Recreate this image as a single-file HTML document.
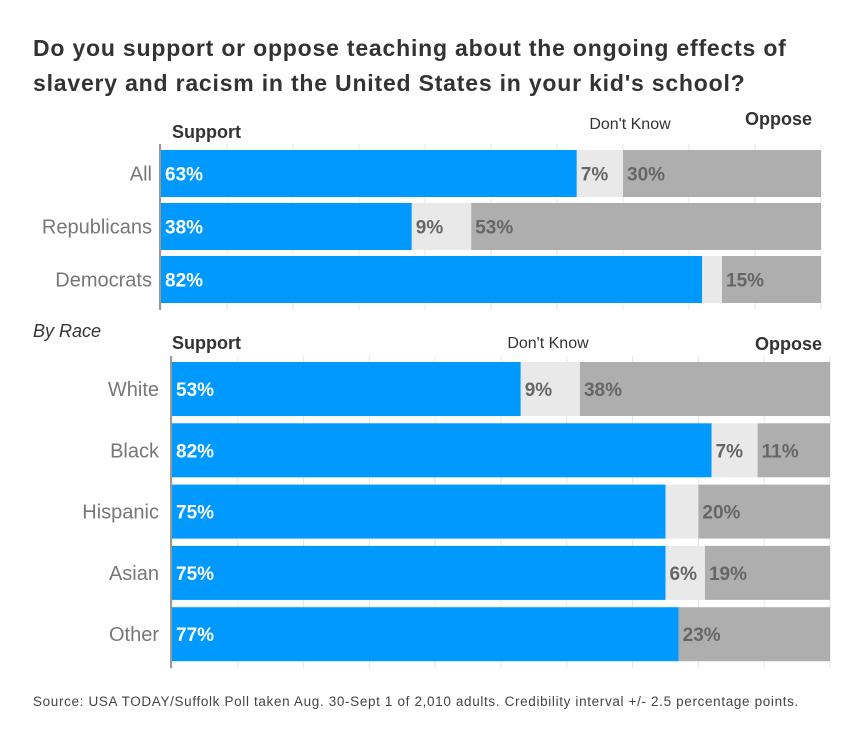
<!DOCTYPE html>
<html><head><meta charset="utf-8">
<style>
body{margin:0;background:#fff;width:860px;height:734px;overflow:hidden;font-family:"Liberation Sans",sans-serif;}
#title{position:absolute;left:33px;top:31px;font-size:23px;font-weight:bold;color:#333;line-height:35px;width:800px;letter-spacing:0.8px;}
#src{position:absolute;left:33px;top:694px;font-size:13.5px;color:#444;letter-spacing:0.65px;}
svg{position:absolute;left:0;top:0;}
</style></head><body>
<div id="title">Do you support or oppose teaching about the ongoing effects of<br>slavery and racism in the United States in your kid's school?</div>
<div id="src">Source: USA TODAY/Suffolk Poll taken Aug. 30-Sept 1 of 2,010 adults. Credibility interval +/- 2.5 percentage points.</div>
<svg id="chart" width="860" height="734"></svg>
<script>
const partyCats=["All","Republicans","Democrats"];
const partySupport=[63,38,82];
const partyDK=[7,9,3];
const partyOppose=[30,53,15];
const raceCats=["White","Black","Hispanic","Asian","Other"];
const raceSupport=[53,82,75,75,77];
const raceDK=[9,7,5,6,0];
const raceOppose=[38,11,20,19,23];
const NS="http://www.w3.org/2000/svg";
const svg=document.getElementById('chart');
function mk(tag,attrs,txt){const e=document.createElementNS(NS,tag);for(const k in attrs)e.setAttribute(k,attrs[k]);if(txt!=null)e.textContent=txt;svg.appendChild(e);return e;}
function panel(cats,sup,dk,opp,x0,x1,y0,rowH,barH,labelX,prefix){
  const sx=v=>x0+(x1-x0)*v/100;
  const yEnd=y0+rowH*cats.length-(rowH-barH);
  for(let t=0;t<=10;t++){
    const l=mk('line',{x1:sx(t*10),x2:sx(t*10),y1:y0-6,y2:yEnd+7,stroke:'#e6e6e6','stroke-width':1});
    
  }
  cats.forEach((c,i)=>{
    const y=y0+i*rowH;
    const segs=[[sup[i],'#0099ff','#fff','support'],[dk[i],'#e9e9e9','#666','dont-know'],[opp[i],'#aeaeae','#666','oppose']];
    let acc=0;
    segs.forEach(s=>{
      const r=mk('rect',{x:sx(acc),y:y,width:sx(acc+s[0])-sx(acc),height:barH,fill:s[1]});
      
      
      if(s[0]>=6){
        const t=mk('text',{x:sx(acc)+4,y:y+barH/2+7,fill:s[2],'font-size':19,'font-weight':'bold'},s[0]+'%');
        
        
      }
      acc+=s[0];
    });
    const lb=mk('text',{x:labelX,y:y+barH/2+7,'text-anchor':'end',fill:'#777','font-size':20},c);
    
    
  });
  const ax=mk('line',{x1:x0-1,x2:x0-1,y1:y0-6,y2:yEnd+7,stroke:'#999','stroke-width':2});
  
}
panel(partyCats,partySupport,partyDK,partyOppose,161,821,150,53,47,152,'party');
panel(raceCats,raceSupport,raceDK,raceOppose,172,830,362,61.3,54,159,'race');
function lab(x,y,t,anchor,bold,name,size){const e=mk('text',{x:x,y:y,'text-anchor':anchor,fill:'#333','font-size':size||18,'font-weight':bold?'bold':'normal'},t);}
lab(172,138,'Support','start',true,'support-header');
lab(630,129,"Don't Know",'middle',false,'dont-know-header',16);
lab(812,125,'Oppose','end',true,'oppose-header');
lab(172,349,'Support','start',true,'support-header-race');
lab(548,348,"Don't Know",'middle',false,'dont-know-header-race',16);
lab(822,350,'Oppose','end',true,'oppose-header-race');
const br=mk('text',{x:33,y:337,fill:'#333','font-size':18,'font-style':'italic'},'By Race');

</script>
</body></html>
